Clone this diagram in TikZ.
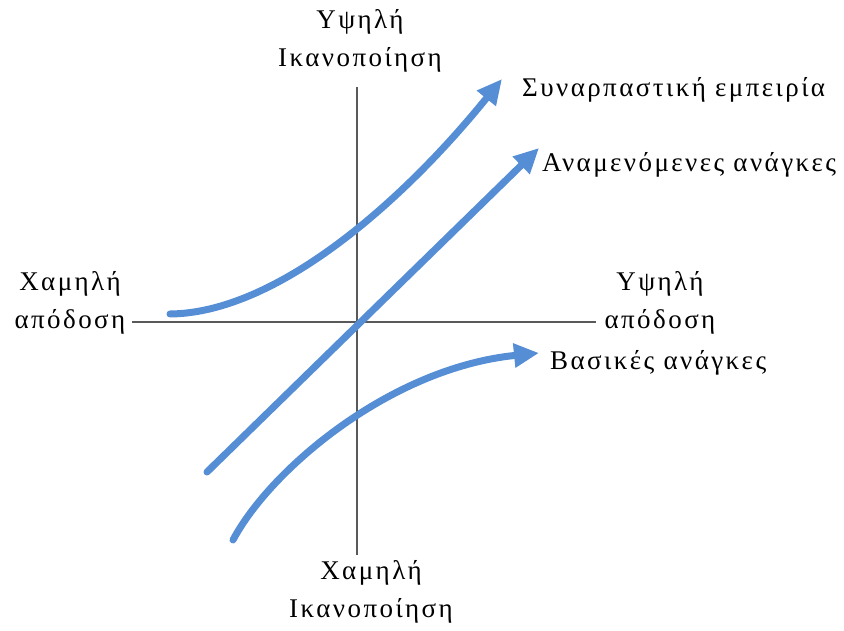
\documentclass[tikz,border=0pt]{standalone}
\usepackage{fontspec}
\setmainfont{Liberation Serif}[LetterSpace=9]
\usetikzlibrary{arrows.meta}
\definecolor{kanoblue}{HTML}{558ED5}
\definecolor{axisgray}{HTML}{595959}

\begin{document}
\begin{tikzpicture}[x=1pt,y=-1pt,
    lbl/.style={inner sep=0pt,align=center,font=\fontsize{27}{38}\selectfont},
    ax/.style={draw=axisgray,line width=2pt},
    curve/.style={draw=kanoblue,line width=7pt,line cap=round,
        -{Triangle[length=25pt,width=23pt]}}]
\useasboundingbox (0,0) rectangle (844,631);
                        \coordinate (LL) at (132,322);
                        \coordinate (RR) at (596,322);
                        \coordinate (TT) at (357,87);
                        \coordinate (BB) at (357,555);
                        \path[ax] (LL) -- (RR) (TT) -- (BB);
                        \node[lbl,anchor=base] (YI) at (360,67) {Υψηλή\\Ικανοποίηση};
                        \node[lbl,anchor=base] (XI) at (371,617) {Χαμηλή\\Ικανοποίηση};
                        \node[lbl,anchor=base] (XA) at (70,328) {Χαμηλή\\απόδοση};
                        \node[lbl,anchor=base] (YA) at (660,328) {Υψηλή\\απόδοση};
                        \coordinate (E0) at (170,314);
                        \coordinate (E1) at (502,79);
                        \coordinate (P0) at (207,472);
                        \coordinate (P1) at (539,148);
                        \coordinate (V0) at (233,540);
                        \coordinate (V1) at (539,353);
                        \path[curve] (E0) .. controls (275,313) and (400,205) .. (E1);
                        \path[curve] (P0) -- (P1);
                        \path[curve] (V0) .. controls (270,470) and (390,368) .. (V1);
                        \node[lbl,anchor=base west] (SE) at (522,97) {Συναρπαστική εμπειρία};
                        \node[lbl,anchor=base west] (AA) at (542,172) {Αναμενόμενες ανάγκες};
                        \node[lbl,anchor=base west] (VA) at (550,370) {Βασικές ανάγκες};
                        \end{tikzpicture}
\end{document}
